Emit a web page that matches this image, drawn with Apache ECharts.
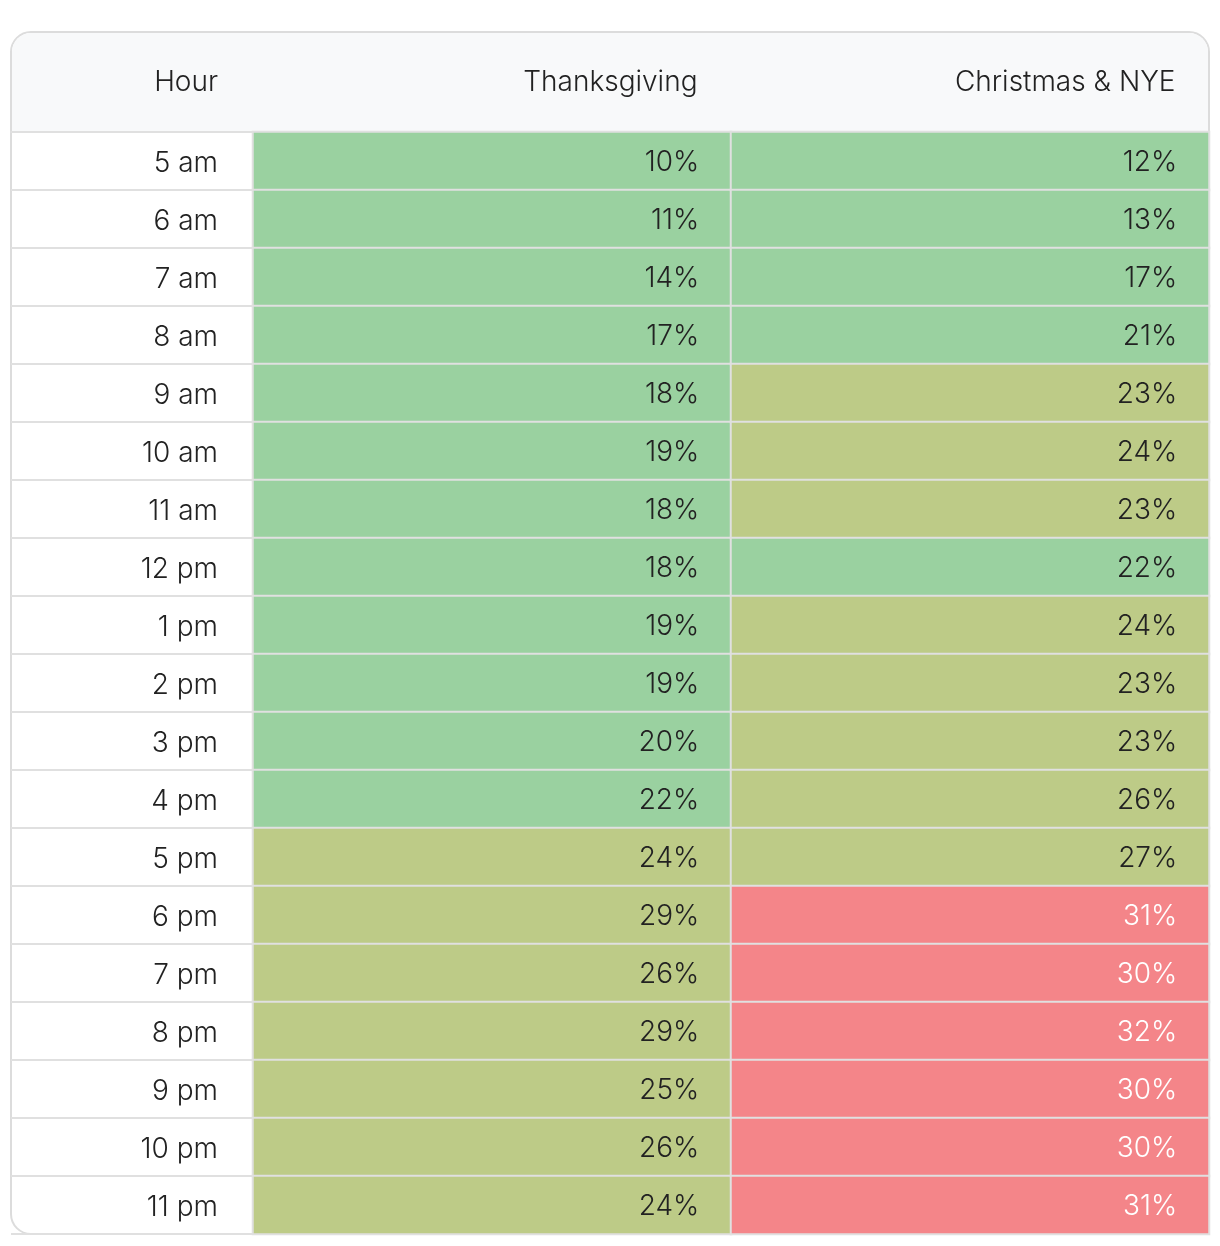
<!DOCTYPE html>
<html>
<head>
<meta charset="utf-8">
<script src="https://cdn.jsdelivr.net/npm/echarts@6/dist/echarts.min.js"></script>
<style>
  html, body { margin: 0; padding: 0; background: #fff; }
  #chart { width: 1220px; height: 1246px; }
</style>
</head>
<body>
<div id="chart"></div>
<script>
var hours = ['5 am', '6 am', '7 am', '8 am', '9 am', '10 am', '11 am', '12 pm', '1 pm', '2 pm',
  '3 pm', '4 pm', '5 pm', '6 pm', '7 pm', '8 pm', '9 pm', '10 pm', '11 pm'];
var columns = ['Thanksgiving', 'Christmas & NYE'];
var thanksgiving = [10, 11, 14, 17, 18, 19, 18, 18, 19, 19, 20, 22, 24, 29, 26, 29, 25, 26, 24];
var christmas = [12, 13, 17, 21, 23, 24, 23, 22, 24, 23, 23, 26, 27, 31, 30, 32, 30, 30, 31];

var FONT = 'Inter, "Noto Sans", sans-serif';
var SIZE = 28;
var WEIGHT = 300;
var TEXT = '#222';
var LINE = '#e0e0e0';

var data = [];
[thanksgiving, christmas].forEach(function (vals, c) {
  vals.forEach(function (v, r) {
    data.push({
      value: [c, r, v],
      label: { color: v >= 30 ? '#fff' : TEXT }
    });
  });
});

// header label: right aligned inside a fixed width box centred on the column
function headerLabel(width) {
  return {
    show: true,
    margin: 35,
    formatter: function (v) { return '{h|' + v + '}'; },
    rich: {
      h: { width: width, align: 'right', fontFamily: FONT, fontWeight: WEIGHT,
        fontSize: SIZE, lineHeight: 28, color: TEXT }
    }
  };
}

var chart = echarts.init(document.getElementById('chart'));
chart.setOption({
  animation: false,
  graphic: [
    { type: 'rect', z: 0, shape: { x: 11, y: 32, width: 1198, height: 1202, r: 20 },
      style: { fill: '#fff', stroke: '#dcdcdc', lineWidth: 2 } },
    { type: 'rect', z: 0, shape: { x: 12, y: 33, width: 1196, height: 99, r: [19, 19, 0, 0] },
      style: { fill: '#f8f9fa' } }
  ],
  grid: [
    { left: 11, width: 242, top: 132, bottom: 12 },
    { left: 253, right: 11, top: 132, bottom: 12 }
  ],
  xAxis: [
    { gridIndex: 0, type: 'category', position: 'top', data: ['Hour'],
      axisLine: { show: true, lineStyle: { color: LINE, width: 2 } },
      axisTick: { show: false }, axisLabel: headerLabel(172) },
    { gridIndex: 1, type: 'category', position: 'top', data: columns,
      axisLine: { show: true, lineStyle: { color: LINE, width: 2 } },
      axisTick: { show: false }, axisLabel: headerLabel(411) }
  ],
  yAxis: [
    { gridIndex: 0, type: 'category', inverse: true, data: hours,
      axisLine: { show: false }, axisTick: { show: false }, axisLabel: { show: false },
      splitLine: { show: true, lineStyle: { color: LINE, width: 2 } } },
    { gridIndex: 1, type: 'category', inverse: true, data: hours,
      axisLine: { show: false }, axisTick: { show: false },
      axisLabel: {
        margin: 35,
        formatter: function (v) { return '{a|' + v + '}'; },
        rich: {
          a: { padding: [6, 0, 0, 0], fontFamily: FONT, fontWeight: WEIGHT,
            fontSize: SIZE, lineHeight: 28, color: TEXT }
        }
      },
      splitLine: { show: false } }
  ],
  visualMap: {
    show: false,
    type: 'piecewise',
    dimension: 2,
    seriesIndex: 0,
    pieces: [
      { max: 22.5, color: '#9ad1a0' },
      { min: 22.5, max: 29.5, color: '#bdcb87' },
      { min: 29.5, color: '#f48589' }
    ]
  },
  series: [{
    type: 'heatmap',
    xAxisIndex: 1,
    yAxisIndex: 1,
    data: data,
    itemStyle: { borderColor: LINE, borderWidth: 2 },
    label: {
      show: true,
      position: 'insideRight',
      distance: 33,
      offset: [0, 2],
      fontFamily: FONT,
      fontWeight: WEIGHT,
      fontSize: SIZE,
      formatter: function (p) { return p.value[2] + '%'; }
    },
    emphasis: { disabled: true }
  }]
});
</script>
</body>
</html>
